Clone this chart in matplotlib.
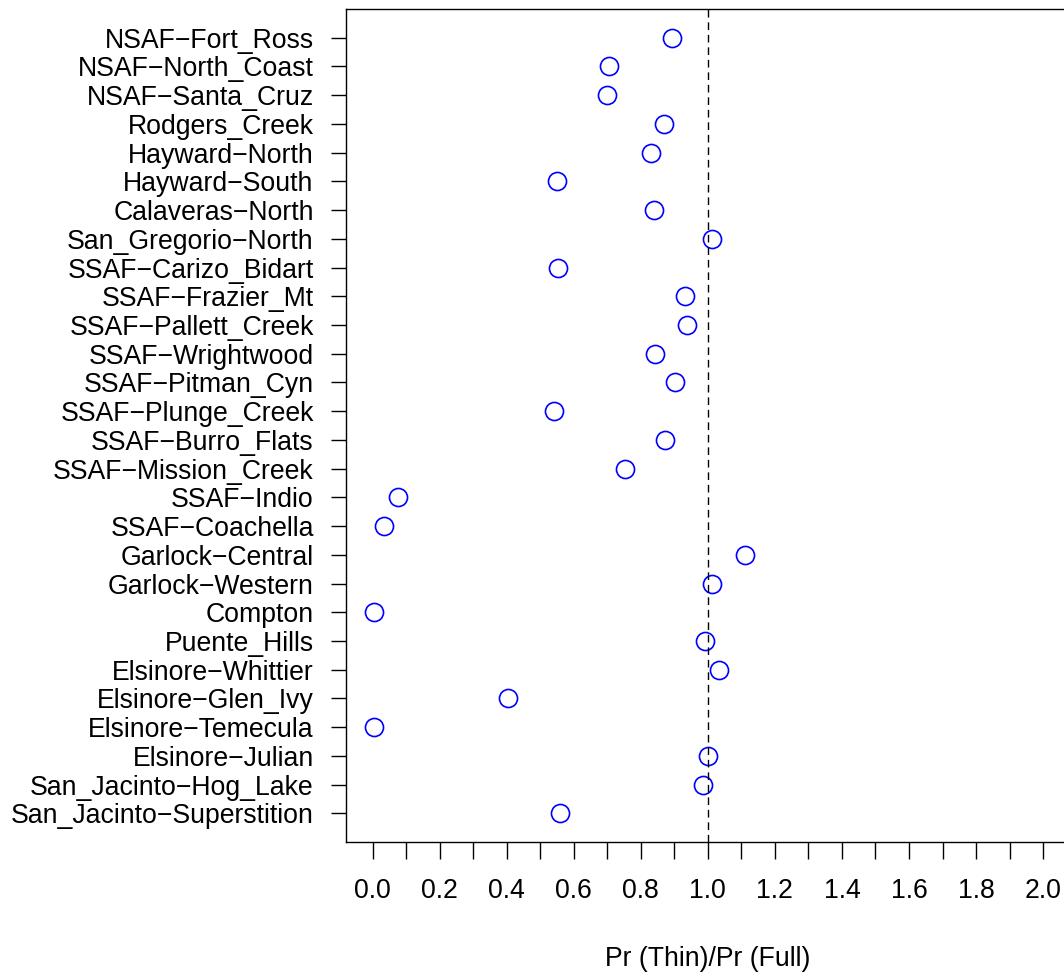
import matplotlib
matplotlib.use("Agg")
import matplotlib.pyplot as plt
import numpy as np

plt.rcParams['font.family'] = ['Liberation Sans', 'DejaVu Sans']

# faults, listed top to bottom
faults = ["NSAF\u2212Fort_Ross", "NSAF\u2212North_Coast", "NSAF\u2212Santa_Cruz",
          "Rodgers_Creek", "Hayward\u2212North", "Hayward\u2212South",
          "Calaveras\u2212North", "San_Gregorio\u2212North", "SSAF\u2212Carizo_Bidart",
          "SSAF\u2212Frazier_Mt", "SSAF\u2212Pallett_Creek", "SSAF\u2212Wrightwood",
          "SSAF\u2212Pitman_Cyn", "SSAF\u2212Plunge_Creek", "SSAF\u2212Burro_Flats",
          "SSAF\u2212Mission_Creek", "SSAF\u2212Indio", "SSAF\u2212Coachella",
          "Garlock\u2212Central", "Garlock\u2212Western", "Compton", "Puente_Hills",
          "Elsinore\u2212Whittier", "Elsinore\u2212Glen_Ivy", "Elsinore\u2212Temecula",
          "Elsinore\u2212Julian", "San_Jacinto\u2212Hog_Lake", "San_Jacinto\u2212Superstition"]

ratio = [0.892, 0.704, 0.698, 0.870, 0.830, 0.551, 0.840, 1.012, 0.553,
         0.931, 0.937, 0.842, 0.902, 0.540, 0.872, 0.754, 0.077, 0.033,
         1.112, 1.013, 0.004, 0.993, 1.033, 0.403, 0.005, 1.001, 0.986, 0.560]

n = len(faults)
ypos = np.arange(n, 0, -1)

fig = plt.figure(figsize=(10.64, 9.72), dpi=100)
ax = fig.add_axes([0.3249, 0.1337, 0.6807, 0.857])

ax.plot(ratio, ypos, 'o', mfc='none', mec='#0000FF', ms=13, mew=1.2)
ax.axvline(1.0, color='black', lw=1.0, ls=(0, (5.5, 3.5)))

ax.set_xlim(-0.08, 2.08)
ax.set_ylim(0, n + 1)

ax.set_xticks(np.arange(0, 2.01, 0.2))
ax.set_xticklabels(["%.1f" % v for v in np.arange(0, 2.01, 0.2)])
ax.set_xticks(np.arange(0.1, 2.0, 0.2), minor=True)
ax.xaxis.set_tick_params(which='major', direction='out', length=12, width=1.0,
                         pad=14, labelsize=19.2)
ax.xaxis.set_tick_params(which='minor', direction='out', length=12, width=1.0)

ax.set_yticks(ypos)
ax.set_yticklabels(faults)
ax.yaxis.set_tick_params(direction='out', length=11, width=1.0, pad=12,
                         labelsize=19.2)

for s in ax.spines.values():
    s.set_linewidth(1.0)

ax.set_xlabel("Pr (Thin)/Pr (Full)", fontsize=19.2, labelpad=30)

fig.savefig("out.png", dpi=100)
